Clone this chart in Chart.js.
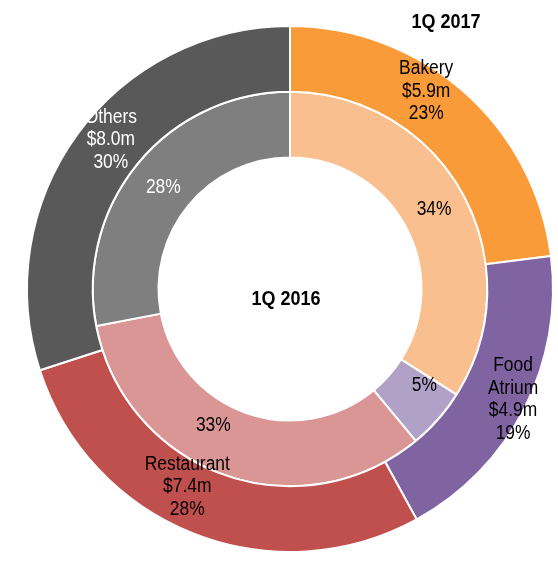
<!DOCTYPE html>
<html>
<head>
<meta charset="utf-8">
<script src="https://cdn.jsdelivr.net/npm/chart.js@4"></script>
<style>
  body { margin: 0; background: #fff; }
  #wrap { width: 558px; height: 570px; }
</style>
</head>
<body>
<div id="wrap"><canvas id="ringChart"></canvas></div>
<script>
// ---- data ----
const categories = ['Bakery', 'Food Atrium', 'Restaurant', 'Others'];
const share2017 = [23, 19, 28, 30];          // outer ring, %
const sales2017 = ['$5.9m', '$4.9m', '$7.4m', '$8.0m'];
const share2016 = [34, 5, 33, 28];           // inner ring, %
const seriesNames = ['1Q 2017', '1Q 2016'];

const outerColors = ['#F99B38', '#8064A2', '#C0504D', '#595959'];
const innerColors = ['#F9BF8F', '#B2A1C7', '#D99694', '#7F7F7F'];
const textColors = ['#000', '#000', '#000', '#fff'];

// small nudges so the labels sit where the original ones do
const outerNudge = [[-16, -25], [18, 6], [-18, -16], [7, -14]];
const innerNudge = [[0, 0], [11, -12], [-21, -18], [0, 3]];

// the original text is a narrow sans, so squeeze it a bit
function narrowText(ctx, t, x, y, sx) {
  ctx.save();
  ctx.translate(x, y);
  ctx.scale(sx, 1);
  ctx.fillText(t, 0, 0);
  ctx.restore();
}

const labelPlugin = {
  id: 'ringLabels',
  afterDatasetsDraw(chart) {
    const ctx = chart.ctx;
    ctx.save();
    ctx.textAlign = 'center';
    ctx.textBaseline = 'middle';
    const lineH = 22.5;

    chart.data.datasets.forEach((ds, di) => {
      const meta = chart.getDatasetMeta(di);
      meta.data.forEach((arc, i) => {
        const mid = (arc.startAngle + arc.endAngle) / 2;
        const r = (arc.innerRadius + arc.outerRadius) / 2;
        const nudge = di === 0 ? outerNudge[i] : innerNudge[i];
        const x = arc.x + Math.cos(mid) * r + nudge[0];
        const y = arc.y + Math.sin(mid) * r + nudge[1];
        let lines;
        if (di === 0) {
          const name = categories[i] === 'Food Atrium' ? ['Food', 'Atrium'] : [categories[i]];
          lines = name.concat([sales2017[i], share2017[i] + '%']);
        } else {
          lines = [share2016[i] + '%'];
        }
        ctx.fillStyle = textColors[i];
        ctx.font = '20px "Liberation Sans", Arial, sans-serif';
        const y0 = y - (lines.length - 1) * lineH / 2;
        lines.forEach((t, k) => narrowText(ctx, t, x, y0 + k * lineH, 0.87));
      });
    });

    // ring titles
    const c = chart.getDatasetMeta(0).data[0];
    ctx.fillStyle = '#000';
    ctx.font = 'bold 20px "Liberation Sans", Arial, sans-serif';
    narrowText(ctx, seriesNames[0], c.x + 156, c.y - 267, 0.9);
    narrowText(ctx, seriesNames[1], c.x - 4, c.y + 10, 0.9);
    ctx.restore();
  }
};

const ctx = document.getElementById('ringChart').getContext('2d');

const myChart = new Chart(ctx, {
  type: 'doughnut',
  data: {
    labels: categories,
    datasets: [
      {
        label: seriesNames[0],
        data: share2017,
        backgroundColor: outerColors,
        borderColor: '#fff',
        borderWidth: 2,
        hoverOffset: 0
      },
      {
        label: seriesNames[1],
        data: share2016,
        backgroundColor: innerColors,
        borderColor: '#fff',
        borderWidth: 2,
        hoverOffset: 0
      }
    ]
  },
  options: {
    responsive: true,
    maintainAspectRatio: false,
    animation: false,
    cutout: '50%',
    layout: { padding: { left: 26, right: 4, top: 25, bottom: 17 } },
    plugins: {
      legend: { display: false },
      tooltip: { enabled: false }
    }
  },
  plugins: [labelPlugin]
});
</script>
</body>
</html>
